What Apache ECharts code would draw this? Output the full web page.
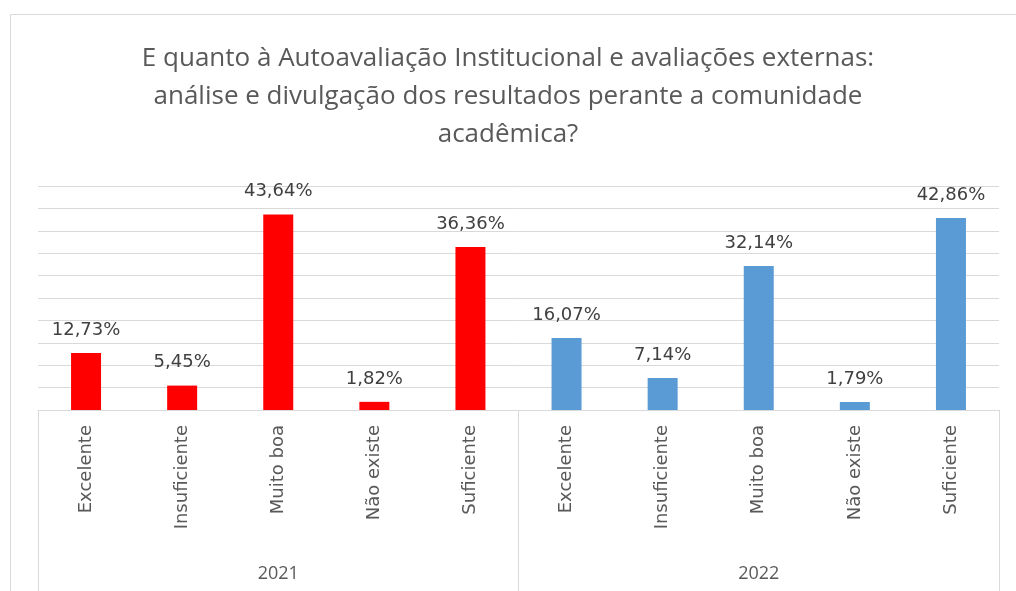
<!DOCTYPE html>
<html>
<head>
<meta charset="utf-8">
<script src="https://cdn.jsdelivr.net/npm/echarts@6/dist/echarts.min.js"></script>
<style>
html,body{margin:0;padding:0;background:#fff;}
#c{width:1016px;height:591px;}
</style>
</head>
<body>
<div id="c"></div>
<script>
const titleText = 'E quanto à Autoavaliação Institucional e avaliações externas:\nanálise e divulgação dos resultados perante a comunidade\nacadêmica?';
const categories = ['Excelente', 'Insuficiente', 'Muito boa', 'Não existe', 'Suficiente'];
const years = ['2021', '2022'];
const values2021 = [12.73, 5.45, 43.64, 1.82, 36.36];
const values2022 = [16.07, 7.14, 32.14, 1.79, 42.86];
const yearColors = ['#FF0000', '#5B9BD5'];

const allCats = categories.concat(categories);
const allData = [];
[values2021, values2022].forEach((arr, gi) => {
  arr.forEach(v => allData.push({ value: v, itemStyle: { color: yearColors[gi] } }));
});

const chart = echarts.init(document.getElementById('c'), null, { renderer: 'canvas' });
chart.setOption({
  animation: false,
  backgroundColor: '#ffffff',
  graphic: [{
    type: 'rect', silent: true, z: -1,
    shape: { x: 10.5, y: 14.5, width: 1200, height: 800 },
    style: { fill: 'none', stroke: '#d9d9d9', lineWidth: 1 }
  }],
  title: {
    text: titleText,
    left: 'center',
    top: 35,
    textStyle: {
      fontFamily: 'Open Sans, sans-serif',
      fontSize: 26,
      fontWeight: 'normal',
      color: '#595959',
      lineHeight: 38
    }
  },
  grid: { left: 38, right: 17, top: 186, bottom: 181, containLabel: false },
  xAxis: [{
    type: 'category',
    data: allCats,
    axisLine: { show: true, lineStyle: { color: '#d9d9d9', width: 1 } },
    axisTick: { show: false },
    axisLabel: {
      rotate: 90,
      margin: 15,
      fontFamily: 'DejaVu Sans, sans-serif',
      fontSize: 18,
      color: '#595959'
    }
  }, {
    type: 'category',
    data: years,
    position: 'bottom',
    axisLine: { show: false },
    axisTick: { show: true, length: 181, lineStyle: { color: '#d9d9d9', width: 1 } },
    axisLabel: {
      margin: 155,
      fontFamily: 'Open Sans, sans-serif',
      fontSize: 18,
      color: '#595959'
    }
  }],
  yAxis: {
    type: 'value',
    min: 0, max: 50, interval: 5,
    axisLabel: { show: false },
    axisLine: { show: false },
    axisTick: { show: false },
    splitLine: { show: true, lineStyle: { color: '#d9d9d9', width: 1 } }
  },
  series: [{
    type: 'bar',
    xAxisIndex: 0,
    data: allData,
    barWidth: 30,
    label: {
      show: true,
      position: 'top',
      distance: 14,
      fontFamily: 'DejaVu Sans, sans-serif',
      fontSize: 18,
      color: '#404040',
      formatter: p => p.value.toFixed(2).replace('.', ',') + '%'
    }
  }]
});
</script>
</body>
</html>
